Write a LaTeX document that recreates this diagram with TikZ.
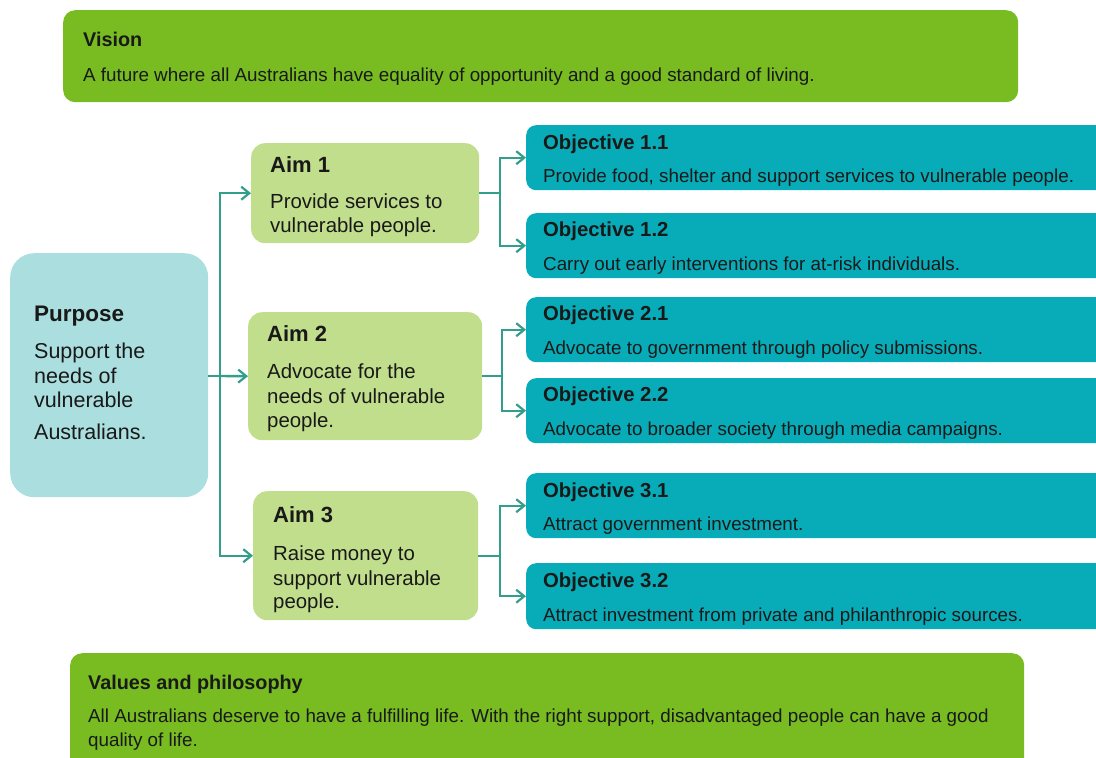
\documentclass[tikz,border=0pt]{standalone}
\usepackage{fontspec}
\setmainfont{Liberation Sans}
\usetikzlibrary{arrows.meta}
\definecolor{vgreen}{RGB}{120,188,34}
\definecolor{agreen}{RGB}{193,222,140}
\definecolor{pteal}{RGB}{171,222,223}
\definecolor{oteal}{RGB}{8,172,184}
\definecolor{cteal}{RGB}{52,158,140}
\definecolor{txt}{RGB}{25,25,25}
\tikzset{
  boxbase/.style={anchor=north west, inner sep=0pt, draw=none},
  vbox/.style={boxbase, fill=vgreen, rounded corners=12pt},
  pbox/.style={boxbase, fill=pteal, rounded corners=24pt},
  abox/.style={boxbase, fill=agreen, rounded corners=14pt},
  obox/.style={boxbase, fill=oteal, rounded corners=10pt},
  lbl/.style={anchor=base west, inner sep=0pt, text=txt},
  conn/.style={draw=cteal, line width=2.4pt},
  arr/.style={conn, -{Straight Barb[length=8pt,width=13pt,line width=2.2pt]}},
  vtitle/.style={lbl, font=\fontsize{19.8}{22}\selectfont\bfseries},
  vbody/.style={lbl, font=\fontsize{18.8}{22}\selectfont},
  ptitle/.style={lbl, font=\fontsize{22.5}{26}\selectfont\bfseries},
  pbody/.style={lbl, font=\fontsize{21.5}{24}\selectfont},
  atitle/.style={lbl, font=\fontsize{22}{24}\selectfont\bfseries},
  abody/.style={lbl, font=\fontsize{20.4}{24}\selectfont},
  otitle/.style={lbl, font=\fontsize{20.3}{22}\selectfont\bfseries},
  obody/.style={lbl, font=\fontsize{18.8}{22}\selectfont},
}
\begin{document}
\begin{tikzpicture}[x=1pt,y=-1pt]
\useasboundingbox (0,0) rectangle (1096,758);
\clip (0,0) rectangle (1096,758);
% boxes
\node[vbox, minimum width=955pt, minimum height=92pt] (vision) at (63,10) {};
\node[pbox, minimum width=198pt, minimum height=244pt] (purpose) at (10,253) {};
\node[abox, minimum width=228pt, minimum height=100pt] (aim1) at (251,143) {};
\node[abox, minimum width=234pt, minimum height=128pt] (aim2) at (248,312) {};
\node[abox, minimum width=225pt, minimum height=129pt] (aim3) at (253,491) {};
\node[obox, minimum width=600pt, minimum height=65pt] (o11) at (526,125) {};
\node[obox, minimum width=600pt, minimum height=65pt] (o12) at (526,213) {};
\node[obox, minimum width=600pt, minimum height=65pt] (o21) at (526,297) {};
\node[obox, minimum width=600pt, minimum height=65pt] (o22) at (526,378) {};
\node[obox, minimum width=600pt, minimum height=65pt] (o31) at (526,473) {};
\node[obox, minimum width=600pt, minimum height=66pt] (o32) at (526,563) {};
\node[vbox, minimum width=954pt, minimum height=130pt] (values) at (70,653) {};
% texts
\node[vtitle] (visiont) at (83,46) {Vision};
\node[vbody] (visionb) at (83,81) {A future where all Australians have equality of opportunity and a good standard of living.};
\node[ptitle] (purt) at (34,321) {Purpose};
\node[pbody] (purb1) at (34,358) {Support the};
\node[pbody] (purb2) at (34,383) {needs of};
\node[pbody] (purb3) at (34,407) {vulnerable};
\node[pbody] (purb4) at (34,439) {Australians.};
\node[atitle] (a1t) at (270,172) {Aim 1};
\node[abody] (a1b1) at (270,208) {Provide services to};
\node[abody] (a1b2) at (270,232) {vulnerable people.};
\node[atitle] (a2t) at (267,341) {Aim 2};
\node[abody] (a2b1) at (267,378) {Advocate for the};
\node[abody] (a2b2) at (267,403) {needs of vulnerable};
\node[abody] (a2b3) at (267,427) {people.};
\node[atitle] (a3t) at (273,522) {Aim 3};
\node[abody] (a3b1) at (273,560) {Raise money to};
\node[abody] (a3b2) at (273,585) {support vulnerable};
\node[abody] (a3b3) at (273,608) {people.};
\node[otitle] (o11t) at (543,149) {Objective 1.1};
\node[obody] (o11b) at (543,182) {Provide food, shelter and support services to vulnerable people.};
\node[otitle] (o12t) at (543,236) {Objective 1.2};
\node[obody] (o12b) at (543,270) {Carry out early interventions for at-risk individuals.};
\node[otitle] (o21t) at (543,320) {Objective 2.1};
\node[obody] (o21b) at (543,354) {Advocate to government through policy submissions.};
\node[otitle] (o22t) at (543,401) {Objective 2.2};
\node[obody] (o22b) at (543,435) {Advocate to broader society through media campaigns.};
\node[otitle] (o31t) at (543,497) {Objective 3.1};
\node[obody] (o31b) at (543,530) {Attract government investment.};
\node[otitle] (o32t) at (543,587) {Objective 3.2};
\node[obody] (o32b) at (543,621) {Attract investment from private and philanthropic sources.};
\node[vtitle] (valt) at (88,689) {Values and philosophy};
\node[vbody] (valb1) at (88,722) {All Australians deserve to have a fulfilling life. With the right support, disadvantaged people can have a good};
\node[vbody] (valb2) at (88,746) {quality of life.};
% connectors
\coordinate (trunk) at (220,376);
\coordinate (b1) at (500,193);
\coordinate (b2) at (502,376);
\coordinate (b3) at (500,555);
\draw[conn] (purpose.east |- trunk) -- (trunk);
\draw[arr] (trunk) |- (aim1.west);
\draw[arr] (trunk) -- (aim2.west);
\draw[arr] (trunk) |- (aim3.west);
\draw[conn] (aim1.east) -- (aim1.east -| b1);
\draw[arr] (aim1.east -| b1) |- (o11.west);
\draw[arr] (aim1.east -| b1) |- (o12.west);
\draw[conn] (aim2.east) -- (aim2.east -| b2);
\draw[arr] (aim2.east -| b2) |- (o21.west);
\draw[arr] (aim2.east -| b2) |- (o22.west);
\draw[conn] (aim3.east) -- (aim3.east -| b3);
\draw[arr] (aim3.east -| b3) |- (o31.west);
\draw[arr] (aim3.east -| b3) |- (o32.west);
\end{tikzpicture}
\end{document}
